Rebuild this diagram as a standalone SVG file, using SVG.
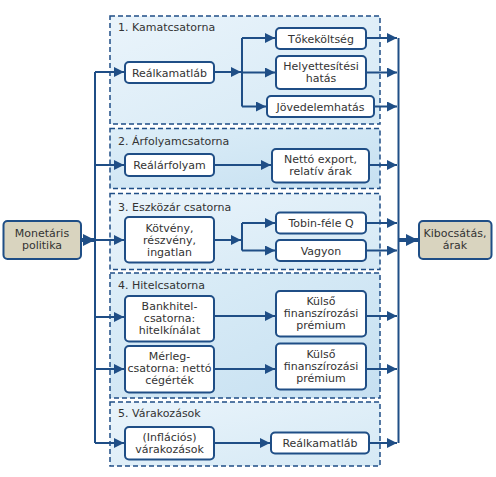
<svg xmlns="http://www.w3.org/2000/svg" width="496" height="477" viewBox="0 0 496 477">
<style>
.panel{stroke:#1f4e86;stroke-width:1.5;stroke-dasharray:5,3}
.title{font-family:"DejaVu Sans",sans-serif;font-size:11px;fill:#333}
.node{fill:#fff;stroke:#1f4e86;stroke-width:2}
.end{fill:#d9d4bf;stroke:#1f4e86;stroke-width:2}
.t{font-family:"DejaVu Sans",sans-serif;font-size:11px;fill:#333;text-anchor:middle}
.c{fill:none;stroke:#1f4e86;stroke-width:2}
.thick{fill:none;stroke:#1f4e86;stroke-width:4}
</style>
<defs>
<linearGradient id="gl" x1="0" y1="0" x2="1" y2="1">
<stop offset="0" stop-color="#eaf4fb"/><stop offset="1" stop-color="#d5e9f5"/>
</linearGradient>
<linearGradient id="gd" x1="0" y1="0" x2="1" y2="1">
<stop offset="0" stop-color="#ddeef8"/><stop offset="1" stop-color="#c6e0f1"/>
</linearGradient>
<marker id="a" markerUnits="userSpaceOnUse" markerWidth="10" markerHeight="10" viewBox="0 0 10 10" refX="10" refY="5" orient="auto">
<path d="M0,0 L10,5 L0,10 z" fill="#1f4e86"/>
</marker>
<marker id="ab" markerUnits="userSpaceOnUse" markerWidth="12" markerHeight="12" viewBox="0 0 10 10" refX="10" refY="5" orient="auto">
<path d="M0,0 L10,5 L0,10 z" fill="#1f4e86"/>
</marker>
</defs>
<g id="panels">
<rect class="panel" x="110" y="16" width="270" height="108" fill="url(#gl)"/>
<rect class="panel" x="110" y="128.5" width="270" height="60" fill="url(#gd)"/>
<rect class="panel" x="110" y="193.5" width="270" height="76" fill="url(#gl)"/>
<rect class="panel" x="110" y="273" width="270" height="125" fill="url(#gd)"/>
<rect class="panel" x="110" y="402" width="270" height="64" fill="url(#gl)"/>
<text class="title" x="118" y="31">1. Kamatcsatorna</text>
<text class="title" x="118" y="145">2. Árfolyamcsatorna</text>
<text class="title" x="118" y="210.5">3. Eszközár csatorna</text>
<text class="title" x="118" y="289">4. Hitelcsatorna</text>
<text class="title" x="118" y="417">5. Várakozások</text>
</g>
<g id="connectors">
<path class="c" d="M95,72 V443"/>
<path class="c" d="M95,72 H124" marker-end="url(#a)"/>
<path class="c" d="M95,165 H124" marker-end="url(#a)"/>
<path class="c" d="M95,240 H124" marker-end="url(#a)"/>
<path class="c" d="M95,317 H124" marker-end="url(#a)"/>
<path class="c" d="M95,369 H124" marker-end="url(#a)"/>
<path class="c" d="M95,443 H124" marker-end="url(#a)"/>
<path class="thick" d="M81,240 H95" marker-end="url(#ab)"/>
<path class="c" d="M214,72 H241" marker-end="url(#a)"/>
<path class="c" d="M242,38 V106.5"/>
<path class="c" d="M242,38 H275" marker-end="url(#a)"/>
<path class="c" d="M242,72.5 H275" marker-end="url(#a)"/>
<path class="c" d="M242,106.5 H266" marker-end="url(#a)"/>
<path class="c" d="M214,165 H271" marker-end="url(#a)"/>
<path class="c" d="M214,240 H241" marker-end="url(#a)"/>
<path class="c" d="M242,223 V250.5"/>
<path class="c" d="M242,223 H275" marker-end="url(#a)"/>
<path class="c" d="M242,250.5 H275" marker-end="url(#a)"/>
<path class="c" d="M214,316 H275" marker-end="url(#a)"/>
<path class="c" d="M214,369 H275" marker-end="url(#a)"/>
<path class="c" d="M214,443 H270" marker-end="url(#a)"/>
<path class="c" d="M398.5,38 V443"/>
<path class="c" d="M366,38 H397" marker-end="url(#a)"/>
<path class="c" d="M366,72.5 H397" marker-end="url(#a)"/>
<path class="c" d="M374,106.5 H397" marker-end="url(#a)"/>
<path class="c" d="M369,165 H397" marker-end="url(#a)"/>
<path class="c" d="M366,223 H397" marker-end="url(#a)"/>
<path class="c" d="M366,250.5 H397" marker-end="url(#a)"/>
<path class="c" d="M366,316 H397" marker-end="url(#a)"/>
<path class="c" d="M366,369 H397" marker-end="url(#a)"/>
<path class="c" d="M369,443 H397" marker-end="url(#a)"/>
<path class="thick" d="M398,240 H418" marker-end="url(#ab)"/>
</g>
<g id="monetaris">
<rect class="end" x="3.5" y="221" width="77.5" height="38" rx="4"/>
<text class="t" x="42" y="236.5">Monetáris</text>
<text class="t" x="42" y="248.5">politika</text>
</g>
<g id="kibocsatas">
<rect class="end" x="419" y="221" width="72.5" height="38" rx="4"/>
<text class="t" x="455" y="236.5">Kibocsátás,</text>
<text class="t" x="455" y="248.5">árak</text>
</g>
<g id="realkamatlab1">
<rect class="node" x="125" y="62" width="89" height="21" rx="4"/>
<text class="t" x="169.5" y="76.5">Reálkamatláb</text>
</g>
<g id="tokekoltseg">
<rect class="node" x="276" y="28" width="90" height="21" rx="4"/>
<text class="t" x="321" y="42.5">Tőkeköltség</text>
</g>
<g id="helyettesitesi">
<rect class="node" x="276" y="56" width="90" height="33" rx="4"/>
<text class="t" x="321" y="69.5">Helyettesítési</text>
<text class="t" x="321" y="81.5">hatás</text>
</g>
<g id="jovedelemhatas">
<rect class="node" x="267" y="96" width="107" height="21" rx="4"/>
<text class="t" x="320.5" y="110.5">Jövedelemhatás</text>
</g>
<g id="realarfolyam">
<rect class="node" x="125" y="154" width="89" height="22" rx="4"/>
<text class="t" x="169.5" y="169">Reálárfolyam</text>
</g>
<g id="netto">
<rect class="node" x="272" y="149" width="97" height="33.5" rx="4"/>
<text class="t" x="320.5" y="162.5">Nettó export,</text>
<text class="t" x="320.5" y="174.5">relatív árak</text>
</g>
<g id="kotveny">
<rect class="node" x="125" y="217" width="89" height="45.5" rx="4"/>
<text class="t" x="169.5" y="231.5">Kötvény,</text>
<text class="t" x="169.5" y="243.5">részvény,</text>
<text class="t" x="169.5" y="255.5">ingatlan</text>
</g>
<g id="tobin">
<rect class="node" x="276" y="212.5" width="90" height="21" rx="4"/>
<text class="t" x="321" y="227">Tobin-féle Q</text>
</g>
<g id="vagyon">
<rect class="node" x="276" y="240" width="90" height="21" rx="4"/>
<text class="t" x="321" y="254.5">Vagyon</text>
</g>
<g id="bankhitel">
<rect class="node" x="125" y="296" width="89" height="45.5" rx="4"/>
<text class="t" x="169.5" y="310">Bankhitel-</text>
<text class="t" x="169.5" y="322">csatorna:</text>
<text class="t" x="169.5" y="334">hitelkínálat</text>
</g>
<g id="kulso1">
<rect class="node" x="276" y="291" width="90" height="45.5" rx="4"/>
<text class="t" x="321" y="305">Külső</text>
<text class="t" x="321" y="317">finanszírozási</text>
<text class="t" x="321" y="329">prémium</text>
</g>
<g id="merleg">
<rect class="node" x="125" y="346" width="89" height="46.5" rx="4"/>
<text class="t" x="169.5" y="360">Mérleg-</text>
<text class="t" x="169.5" y="372">csatorna: nettó</text>
<text class="t" x="169.5" y="384">cégérték</text>
</g>
<g id="kulso2">
<rect class="node" x="276" y="343.5" width="90" height="46" rx="4"/>
<text class="t" x="321" y="357.5">Külső</text>
<text class="t" x="321" y="369.5">finanszírozási</text>
<text class="t" x="321" y="381.5">prémium</text>
</g>
<g id="inflacios">
<rect class="node" x="125" y="427" width="89" height="32.5" rx="4"/>
<text class="t" x="169.5" y="440.5">(Inflációs)</text>
<text class="t" x="169.5" y="452.5">várakozások</text>
</g>
<g id="realkamatlab2">
<rect class="node" x="271" y="432.5" width="98" height="21" rx="4"/>
<text class="t" x="320" y="447">Reálkamatláb</text>
</g>
</svg>
